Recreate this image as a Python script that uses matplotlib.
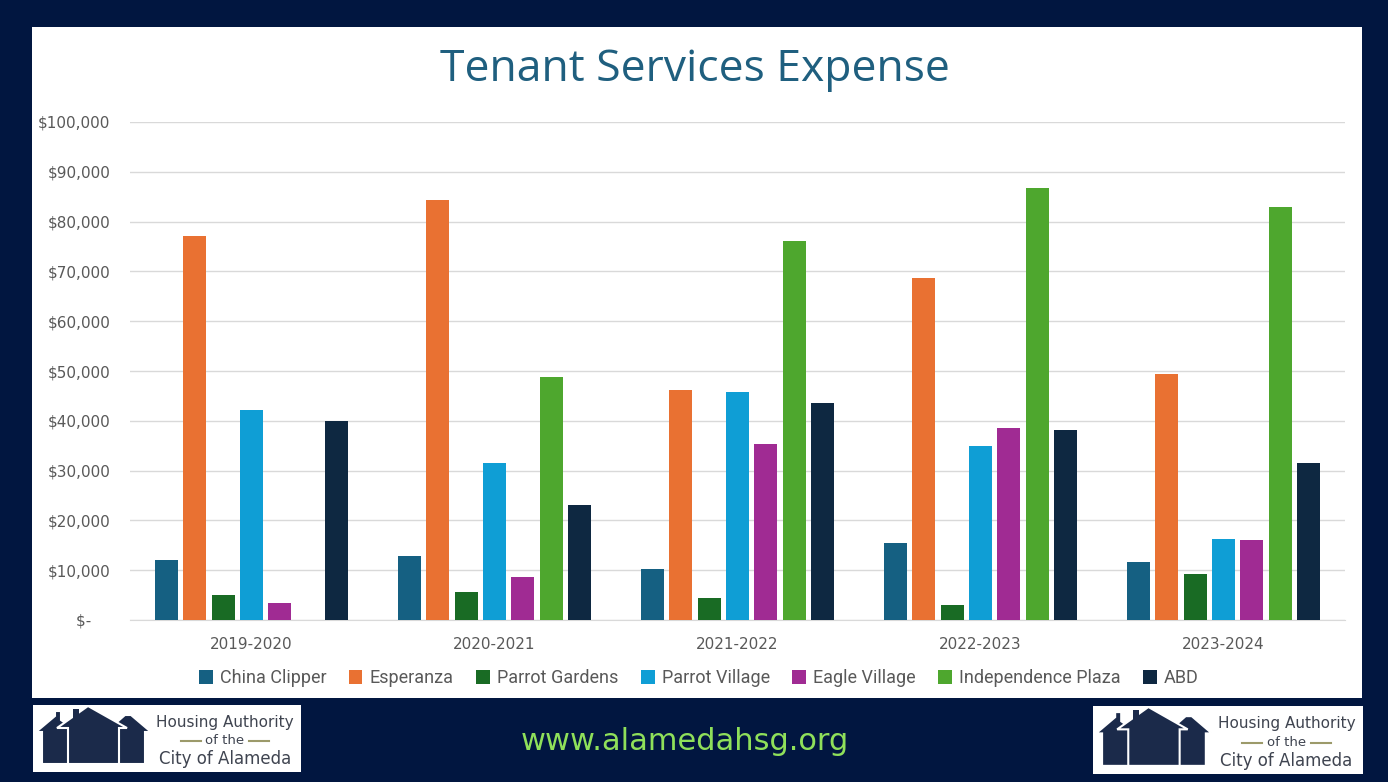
import matplotlib.pyplot as plt
import matplotlib.patches as mpatches
import numpy as np

years = ['2019-2020', '2020-2021', '2021-2022', '2022-2023', '2023-2024']
properties = ['China Clipper', 'Esperanza', 'Parrot Gardens', 'Parrot Village',
              'Eagle Village', 'Independence Plaza', 'ABD']
colors = ['#156082', '#E97132', '#196B24', '#0F9ED5', '#A02B93', '#4EA72E', '#0E2841']

china_clipper = [12000, 12800, 10200, 15500, 11700]
esperanza = [77200, 84300, 46200, 68700, 49300]
parrot_gardens = [5100, 5600, 4500, 3000, 9300]
parrot_village = [42200, 31600, 45800, 35000, 16300]
eagle_village = [3400, 8600, 35400, 38500, 16000]
independence_plaza = [0, 48800, 76100, 86700, 82900]
abd = [40000, 23000, 43600, 38200, 31500]
series = [china_clipper, esperanza, parrot_gardens, parrot_village,
          eagle_village, independence_plaza, abd]

navy = '#011640'
fig = plt.figure(figsize=(13.88, 7.82), dpi=100)
fig.patch.set_facecolor(navy)

W, H = 1388, 782


def box(x0, y0, x1, y1):
    # pixel box (top-left origin) -> figure fraction rect
    return [x0 / W, 1 - y1 / H, (x1 - x0) / W, (y1 - y0) / H]


# white panel behind the chart
panel = fig.add_axes(box(32, 27, 1362, 698), zorder=-1)
panel.set_facecolor('white')
panel.set_xticks([])
panel.set_yticks([])
for s in panel.spines.values():
    s.set_visible(False)

fig.text(695 / W, 1 - 70 / H, 'Tenant Services Expense', ha='center', va='center',
         fontsize=32, color='#1F5F7F', family='Open Sans')

ax = fig.add_axes(box(130, 122, 1345, 620))
x = np.arange(len(years))
step = 0.117
width = 0.095
for i, (name, vals) in enumerate(zip(properties, series)):
    ax.bar(x + (i - 3) * step, vals, width=width, color=colors[i], label=name,
           linewidth=0, zorder=3)

ax.set_ylim(0, 100000)
ax.set_xlim(-0.5, len(years) - 0.5)
ticks = np.arange(0, 100001, 10000)
ax.set_yticks(ticks)
ax.set_yticklabels(['$-    '] + ['${:,.0f}'.format(t) for t in ticks[1:]])
ax.set_xticks(x)
ax.set_xticklabels(years)
ax.yaxis.grid(True, color='#D9D9D9', linewidth=1, zorder=0)
for side in ['top', 'right', 'left']:
    ax.spines[side].set_visible(False)
ax.spines['bottom'].set_color('#D9D9D9')
ax.tick_params(length=0, labelsize=11, colors='#595959')
ax.tick_params(axis='y', pad=14)
ax.tick_params(axis='x', pad=12)
ax.set_facecolor('none')

handles, labels = ax.get_legend_handles_labels()
leg = fig.legend(handles, labels, loc='center', bbox_to_anchor=(699 / W, 1 - 678 / H),
                 ncol=7, frameon=False, handlelength=0.75, handleheight=0.85,
                 handletextpad=0.4, columnspacing=1.25,
                 prop={'family': 'Roboto', 'size': 13})
for t in leg.get_texts():
    t.set_color('#595959')

fig.text(685 / W, 1 - 742 / H, 'www.alamedahsg.org', ha='center', va='center',
         fontsize=22, color='#8FE05A', family='DejaVu Sans')


def logo(x0, y0, x1, y1):
    lax = fig.add_axes(box(x0, y0, x1, y1))
    lax.set_xlim(0, 268)
    lax.set_ylim(0, 67)
    lax.axis('off')
    lax.add_patch(mpatches.Rectangle((0, 0), 268, 67, facecolor='white', edgecolor='none'))
    house = '#1B2A4A'
    left = [(9, 8), (9, 40), (3, 40), (22, 56), (22, 61), (28, 61), (28, 52), (38, 45),
            (40, 44), (40, 8)]
    right = [(84, 8), (84, 50), (92, 57), (98, 57), (118, 40), (112, 40), (112, 8)]
    big = [(35, 8), (35, 44), (24, 44), (55, 66), (94, 44), (86, 44), (86, 8)]
    for poly in (left, right, big):
        lax.add_patch(mpatches.Polygon(poly, closed=True, facecolor=house,
                                       edgecolor='white', linewidth=1.5))
    lax.add_patch(mpatches.Rectangle((40, 53), 6, 10, facecolor=house, edgecolor='none'))
    tc = '#3F4450'
    lax.text(192, 50, 'Housing Authority', ha='center', va='center', fontsize=11,
             color=tc, family='DejaVu Sans')
    lax.text(192, 31, 'of the', ha='center', va='center', fontsize=9.5,
             color=tc, family='DejaVu Sans')
    lax.plot([148, 168], [31, 31], color='#9C9A6A', linewidth=1.5)
    lax.plot([216, 236], [31, 31], color='#9C9A6A', linewidth=1.5)
    lax.text(192, 13, 'City of Alameda', ha='center', va='center', fontsize=12,
             color=tc, family='DejaVu Sans')


logo(33, 705, 301, 772)
logo(1093, 706, 1363, 774)

plt.savefig('out.png', dpi=100, facecolor=navy)
